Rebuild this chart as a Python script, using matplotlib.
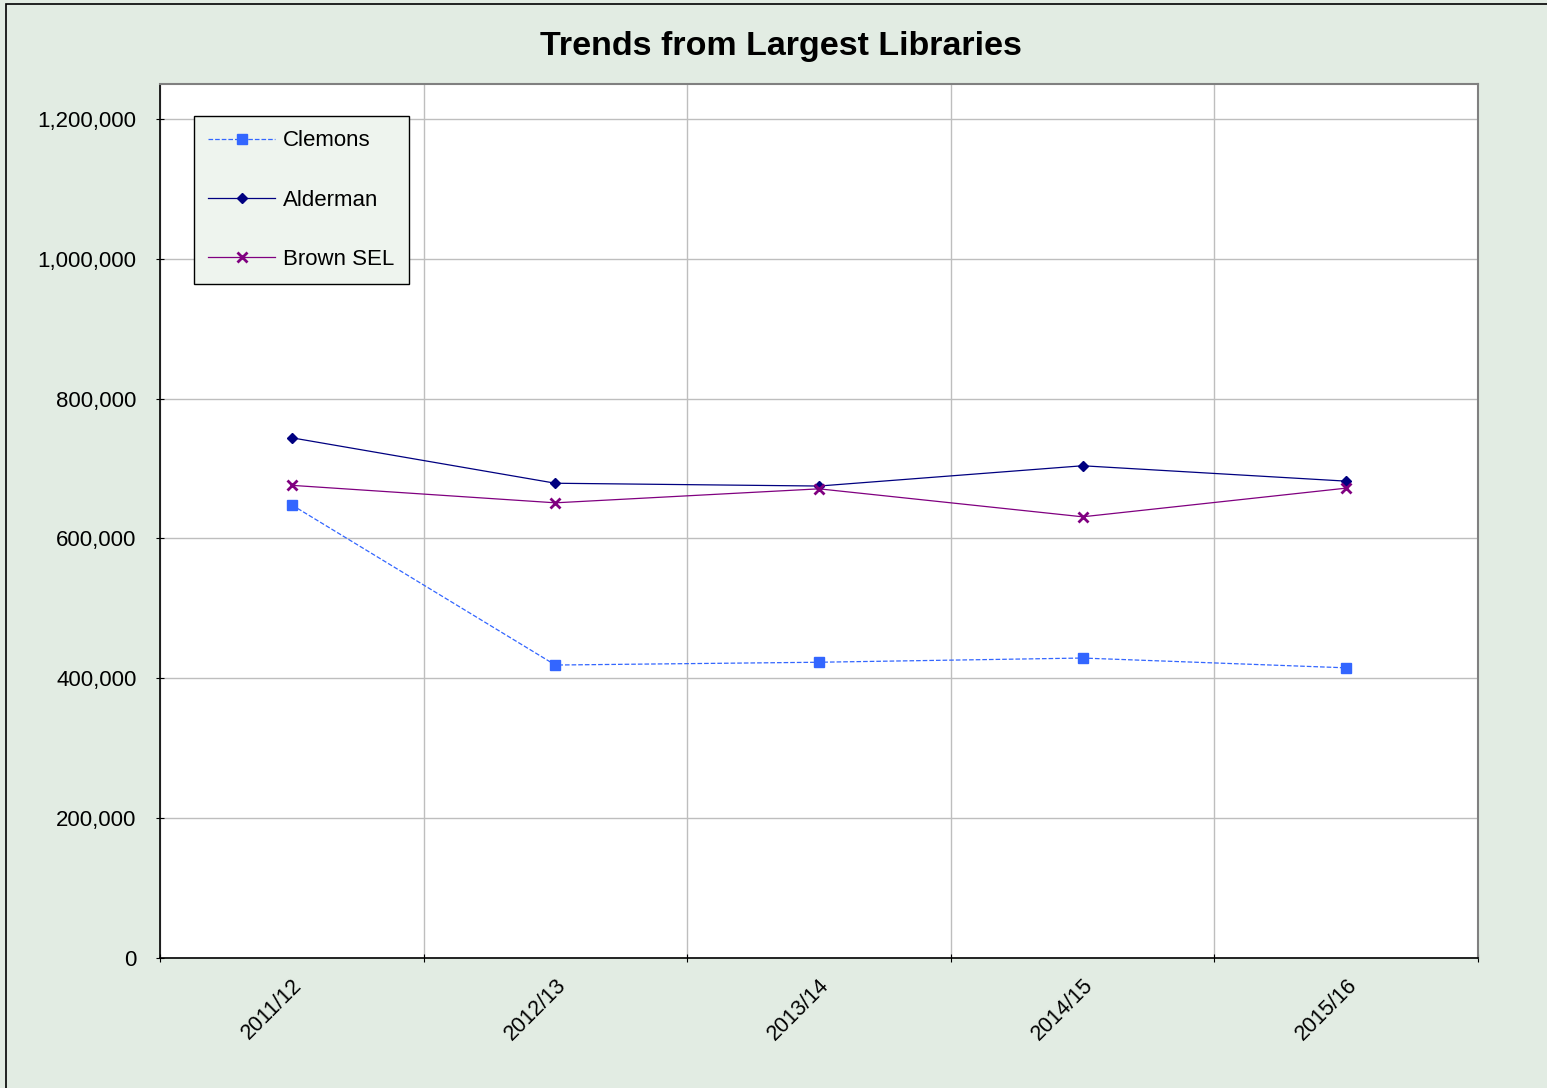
import matplotlib.pyplot as plt
import matplotlib.patches as patches
from matplotlib.ticker import FuncFormatter, MultipleLocator
import numpy as np

plt.rcParams['font.family'] = ['Liberation Sans', 'DejaVu Sans']

years = ["2011/12", "2012/13", "2013/14", "2014/15", "2015/16"]
clemons = [648000, 419000, 423000, 429000, 415000]
alderman = [744000, 679000, 675000, 704000, 682000]
brown_sel = [676000, 651000, 671000, 631000, 672000]

bg = "#E2ECE3"
fig = plt.figure(figsize=(15.47, 10.88), dpi=100, facecolor=bg)
# outer chart border
fig.patches.append(patches.Rectangle((6 / 1547, -0.01), 1.02, 1 - 4 / 1088 + 0.01,
                                     transform=fig.transFigure, fill=False,
                                     edgecolor="black", linewidth=1.2))

ax = fig.add_axes([160 / 1547, 1 - 958 / 1088, (1478 - 160) / 1547, (958 - 84) / 1088])
ax.set_facecolor("white")

x = np.arange(len(years))
ax.plot(x, clemons, color="#3366FF", linestyle="--", linewidth=0.9,
        marker="s", markersize=6.5, label="Clemons")
ax.plot(x, alderman, color="#000080", linestyle="-", linewidth=0.9,
        marker="D", markersize=5.5, label="Alderman")
ax.plot(x, brown_sel, color="#800080", linestyle="-", linewidth=0.9,
        marker="x", markersize=6.5, markeredgewidth=2, label="Brown SEL")

ax.set_xlim(-0.5, len(years) - 0.5)
ax.set_ylim(0, 1250000)
ax.yaxis.set_major_locator(MultipleLocator(200000))
ax.yaxis.set_major_formatter(FuncFormatter(lambda v, p: f"{int(v):,}"))

# category ticks between groups, labels at centres
ax.set_xticks(np.arange(-0.5, len(years), 1.0))
ax.set_xticklabels([])
ax.set_xticks(x, minor=True)
ax.set_xticklabels(years, minor=True, rotation=45, ha="right", rotation_mode="anchor",
                   fontsize=15.5)
ax.tick_params(axis="x", which="minor", length=0, pad=12)
ax.tick_params(axis="x", which="major", length=6, direction="inout")
ax.tick_params(axis="y", labelsize=16, length=6, direction="inout", pad=14)

ax.grid(True, which="major", color="#BEBEBE", linewidth=1)
ax.set_axisbelow(True)

for side in ["top", "right"]:
    ax.spines[side].set_color("#808080")
    ax.spines[side].set_linewidth(1.5)
for side in ["left", "bottom"]:
    ax.spines[side].set_color("black")
    ax.spines[side].set_linewidth(1.2)

fig.text(781 / 1547, 1 - 46 / 1088, "Trends from Largest Libraries", ha="center",
         va="center", fontsize=24.5, fontweight="bold")

leg = ax.legend(loc="upper left", bbox_to_anchor=(34 / 1318, 1 - 32 / 874),
                fontsize=16, frameon=True, fancybox=False, labelspacing=1.72,
                handlelength=3.0, borderpad=0.65, borderaxespad=0, handletextpad=0.35)
leg.get_frame().set_facecolor("#EEF4EE")
leg.get_frame().set_edgecolor("black")
leg.get_frame().set_alpha(1)

fig.savefig("out.png", dpi=100, facecolor=bg)
